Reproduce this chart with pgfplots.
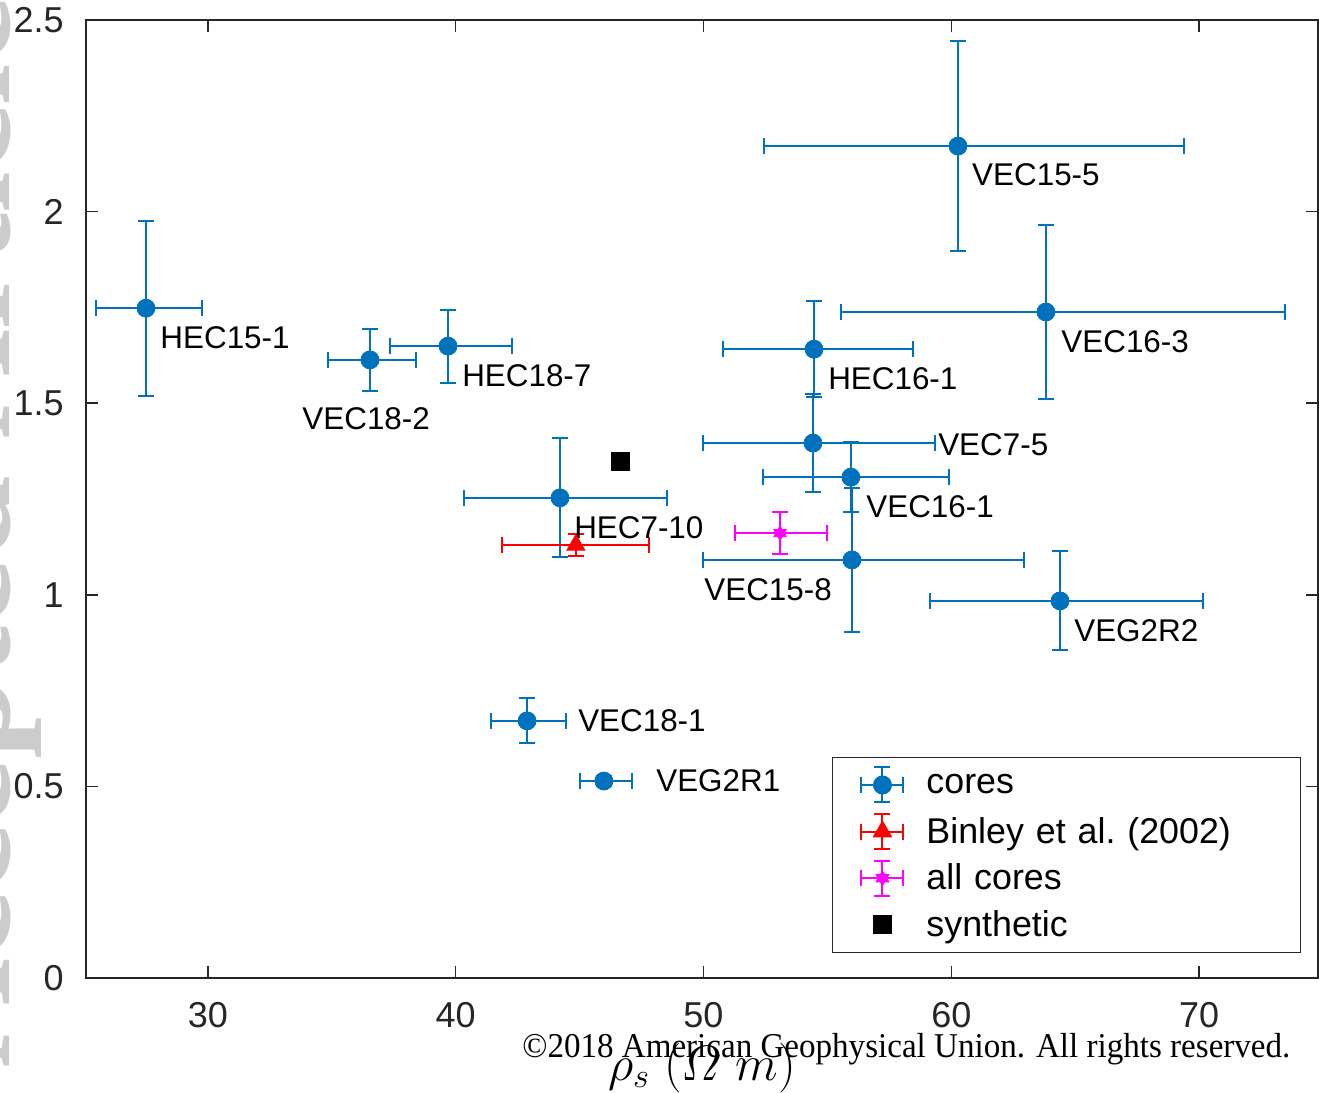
\documentclass[border=0pt]{standalone}
\usepackage{graphicx}
\usepackage{amsmath}
\usepackage{pgfplots}
\pgfplotsset{compat=1.18}
\usepackage[no-math]{fontspec}
\setmainfont{Liberation Sans}
\newfontfamily\wmfont{Liberation Serif}

\definecolor{mblue}{RGB}{0,114,189}
\definecolor{mmagenta}{RGB}{255,0,255}
\definecolor{axgray}{RGB}{38,38,38}

% filled six-pointed star
\pgfdeclareplotmark{hexagram*}{%
  \pgfpathmoveto{\pgfpointpolar{90}{\pgfplotmarksize}}%
  \pgfpathlineto{\pgfpointpolar{210}{\pgfplotmarksize}}%
  \pgfpathlineto{\pgfpointpolar{330}{\pgfplotmarksize}}%
  \pgfpathclose
  \pgfpathmoveto{\pgfpointpolar{270}{\pgfplotmarksize}}%
  \pgfpathlineto{\pgfpointpolar{30}{\pgfplotmarksize}}%
  \pgfpathlineto{\pgfpointpolar{150}{\pgfplotmarksize}}%
  \pgfpathclose
  \pgfusepathqfillstroke}

% legend glyph: error-bar cross in the given colour
\newcommand{\errcross}[1]{%
  \path[draw=none, fill=none] (0pt,-9.25pt) rectangle (21pt,9.25pt);
  \draw[#1, line width=1pt] (0pt,0pt) -- (21pt,0pt)
     (0pt,-4pt) -- (0pt,4pt) (21pt,-4pt) -- (21pt,4pt)
     (10.5pt,-8.75pt) -- (10.5pt,8.75pt)
     (6.5pt,-8.75pt) -- (14.5pt,-8.75pt) (6.5pt,8.75pt) -- (14.5pt,8.75pt);}

\begin{document}
\begin{tikzpicture}
% journal watermark along the left margin
\node[rotate=90, anchor=base west, inner sep=0pt, text=black!20,
      font=\wmfont\bfseries\fontsize{75}{80}\selectfont] at (-38pt,-45pt) {Accepted Article};

\begin{axis}[
  width=616pt, height=479pt, scale only axis,
  xmin=25.08, xmax=74.8, ymin=0, ymax=2.5,
  xtick={30,40,...,70}, ytick={0,0.5,...,2.5},
  tick align=inside, major tick length=6pt,
  axis line style={axgray, line width=0.75pt},
  tick style={axgray, line width=0.75pt},
  tick label style={font=\fontsize{18}{21}\selectfont, text=axgray},
  /pgf/number format/assume math mode=true,
  xticklabel style={inner sep=0pt, yshift=-12pt},
  yticklabel style={inner sep=0pt, xshift=-11pt},
  xlabel={$\rho_s\ (\varOmega\ m)$},
  xlabel style={font=\fontsize{25}{30}\selectfont, at={(axis description cs:0.5,0)},
                anchor=base, yshift=-51pt, inner sep=0pt},
  legend style={at={(0.6055,0.2307)}, anchor=north west,
                draw=axgray, line width=0.5pt, fill=white,
                inner xsep=14pt, inner ysep=4.5pt,
                row sep=4.8pt, column sep=11pt,
                nodes={inner sep=0pt, text width=173pt, align=left,
                       font=\fontsize{17.9}{17.5}\selectfont, text=black}},
  legend cell align=left,
  error bars/error mark options={rotate=90, line width=1pt, mark size=4pt},
]

% cores (x uncertainties are asymmetric)
\addplot[only marks, mark=*, mark size=4.5pt, color=mblue,
  mark options={fill=mblue, draw=mblue},
  legend image code/.code={\errcross{mblue}
     \fill[mblue] (10.5pt,0pt) circle (4.5pt);},
  error bars/.cd, x dir=both, x explicit, y dir=both, y explicit,
  error bar style={line width=1pt, mblue},
  ]
  coordinates {
  (27.50,1.748) += (2.26,0.228) -= (2.02,0.228)
  (36.54,1.613) += (1.86,0.081) -= (1.69,0.081)
  (39.69,1.649) += (2.58,0.095) -= (2.34,0.095)
  (60.27,2.171) += (9.12,0.275) -= (7.83,0.275)
  (63.82,1.738) += (9.65,0.226) -= (8.27,0.226)
  (54.46,1.641) += (4.00,0.125) -= (3.67,0.125)
  (54.42,1.396) += (4.92,0.127) -= (4.44,0.127)
  (55.95,1.307) += (3.95,0.091) -= (3.55,0.091)
  (44.21,1.253) += (4.32,0.155) -= (3.87,0.155)
  (55.99,1.091) += (6.94,0.188) -= (6.01,0.188)
  (64.39,0.984) += (5.77,0.129) -= (5.25,0.129)
  (42.88,0.671) += (1.57,0.059) -= (1.45,0.059)
  (45.98,0.514) += (1.13,0.014) -= (0.97,0.014)
  };
\addlegendentry{cores}

% Binley et al. (2002)
\addplot[only marks, mark=triangle*, mark size=5.2pt, color=red,
  mark options={fill=red, draw=red},
  legend image code/.code={\errcross{red}
     \path[draw=red, fill=red, mark=triangle*, mark size=5.2pt] plot coordinates {(10.5pt,0pt)};},
  error bars/.cd, x dir=both, x explicit, y dir=both, y explicit,
  error bar style={line width=1pt, red},
  ]
  coordinates {(44.85,1.130) +- (2.97,0.029)};
\addlegendentry{Binley et al.\ (2002)}

% all cores
\addplot[only marks, mark=hexagram*, mark size=3.6pt, color=mmagenta,
  mark options={fill=mmagenta, draw=mmagenta},
  legend image code/.code={\errcross{mmagenta}
     \path[draw=mmagenta, fill=mmagenta, mark=hexagram*, mark size=3.6pt] plot coordinates {(10.5pt,0pt)};},
  error bars/.cd, x dir=both, x explicit, y dir=both, y explicit,
  error bar style={line width=1pt, mmagenta},
  ]
  coordinates {(53.09,1.161) += (1.90,0.055) -= (1.82,0.055)};
\addlegendentry{all cores}

% synthetic
\addplot[only marks, mark=square*, mark size=4.5pt, color=black,
  mark options={fill=black, draw=black},
  legend image code/.code={\path[draw=none, fill=none] (0pt,-9.25pt) rectangle (21pt,9.25pt);
     \fill[black] (6pt,-4.5pt) rectangle (15pt,4.5pt);}]
  coordinates {(46.63,1.347)};
\addlegendentry{synthetic}

% sample names
\begin{scope}[every node/.style={anchor=west, inner sep=0pt, font=\fontsize{15.7}{19}\selectfont}]
\node at (axis cs:28.07,1.670) {HEC15-1};
\node at (axis cs:33.80,1.459) {VEC18-2};
\node at (axis cs:40.25,1.571) {HEC18-7};
\node at (axis cs:60.83,2.096) {VEC15-5};
\node at (axis cs:64.43,1.660) {VEC16-3};
\node at (axis cs:55.02,1.563) {HEC16-1};
\node at (axis cs:59.46,1.391) {VEC7-5};
\node at (axis cs:56.56,1.229) {VEC16-1};
\node at (axis cs:44.77,1.174) {HEC7-10};
\node at (axis cs:50.02,1.013) {VEC15-8};
\node at (axis cs:64.95,0.906) {VEG2R2};
\node at (axis cs:44.93,0.671) {VEC18-1};
\node at (axis cs:48.08,0.514) {VEG2R1};
\end{scope}
\end{axis}

\node[anchor=base west, inner sep=0pt, font=\wmfont\fontsize{17.4}{21}\selectfont]
  at (218pt,-40pt)
  {\resizebox{384pt}{\height}{\textcopyright 2018 American Geophysical Union. All rights reserved.}};

\pgfresetboundingbox
\path[use as bounding box] (-43pt,-57.5pt) rectangle (616.5pt,489pt);
\end{tikzpicture}
\end{document}
